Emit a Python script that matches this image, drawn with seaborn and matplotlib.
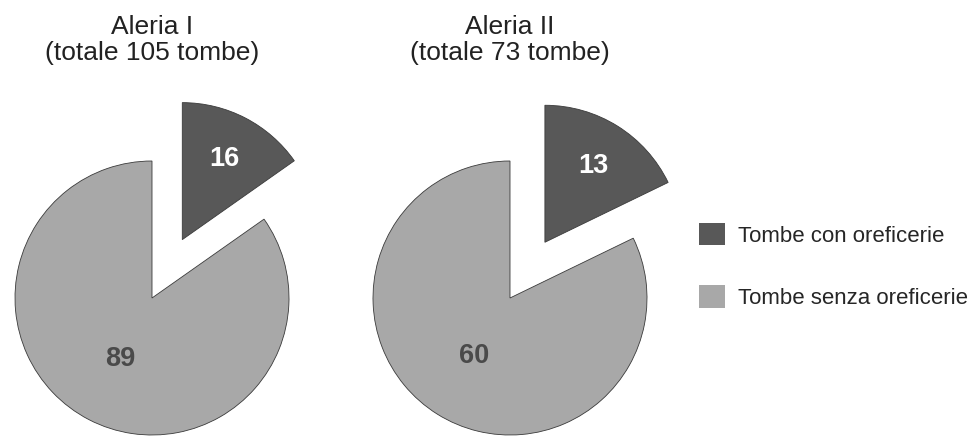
import seaborn as sns
import matplotlib.pyplot as plt
import numpy as np

# data
sites = ["Aleria I", "Aleria II"]
totals = [105, 73]
con_oreficerie = [16, 13]
senza_oreficerie = [89, 60]
categories = ["Tombe con oreficerie", "Tombe senza oreficerie"]

sns.set_style("white")
plt.rcParams['font.family'] = ['Liberation Sans', 'DejaVu Sans']

colors = ["#585858", "#a8a8a8"]
text_colors = ["white", "#4a4a4a"]
label_dist = [0.66, 0.5]

W, H = 973, 437
fig = plt.figure(figsize=(W / 100, H / 100), dpi=100)

scale = 137.0  # pixels per unit radius
centers = [(152, 298), (510, 298)]
spans = [(0, 330), (340, 690)]

wedges_for_legend = None
for i, site in enumerate(sites):
    cx, cy = centers[i]
    x0, x1 = spans[i]
    ax = fig.add_axes([x0 / W, 0, (x1 - x0) / W, 1])
    vals = [con_oreficerie[i], senza_oreficerie[i]]
    wedges, _ = ax.pie(vals, colors=colors, startangle=90, counterclock=False,
                       explode=[0.48, 0], radius=1,
                       wedgeprops=dict(edgecolor="#3a3a3a", linewidth=0.6))
    ax.set_xlim((x0 - cx) / scale, (x1 - cx) / scale)
    ax.set_ylim((cy - H) / scale, cy / scale)
    ax.set_aspect("auto")
    for j, w in enumerate(wedges):
        ang = np.deg2rad((w.theta1 + w.theta2) / 2)
        wx, wy = w.center
        ax.text(wx + label_dist[j] * np.cos(ang), wy + label_dist[j] * np.sin(ang),
                str(vals[j]), ha="center", va="center", fontsize=19.5,
                fontweight="bold", color=text_colors[j])
    ax.text(0, (cy - 40) / scale, f"{site}\n(totale {totals[i]} tombe)",
            ha="center", va="center", fontsize=19, color="#222222",
            linespacing=1.15)
    wedges_for_legend = wedges

fig.legend(wedges_for_legend, categories, loc="upper left",
           bbox_to_anchor=(699 / W, 1 - 223 / H), frameon=False,
           fontsize=16, handlelength=1.15, handleheight=1.15,
           handletextpad=0.6, labelspacing=1.75, borderpad=0, borderaxespad=0)
for h in fig.legends[0].legend_handles:
    h.set_edgecolor("none")

fig.savefig("out.png", dpi=100)
